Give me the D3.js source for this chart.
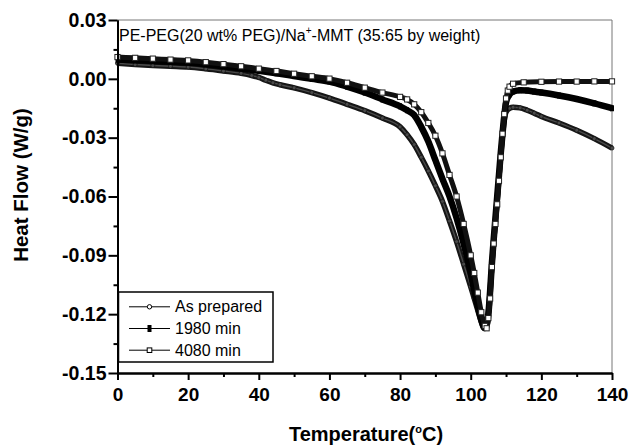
<!DOCTYPE html>
<html>
<head>
<meta charset="utf-8">
<script src="https://cdn.jsdelivr.net/npm/d3@7"></script>
<style>
  body { margin: 0; background: #fff; }
  svg text { font-family: "Liberation Sans", Arial, sans-serif; }
</style>
</head>
<body>
<svg id="chart" width="630" height="446"></svg>
<script>
// DSC heating traces, temperature (C) vs heat flow (W/g)
var tAsPrep = [0, 5, 10, 15, 20, 25, 30, 35, 38, 40, 42, 44, 46, 50, 55, 60, 65, 70, 75, 80, 82, 84, 86, 88, 90, 92, 94, 96, 98, 100, 101, 102, 103, 103.7, 104.5, 105, 105.5, 106, 106.5, 107, 107.5, 108, 108.5, 109, 109.5, 110, 111, 112, 114, 116, 118, 120, 125, 130, 135, 140];
var vAsPrep = [0.0079, 0.0073, 0.0068, 0.0064, 0.0060, 0.0051, 0.0040, 0.0028, 0.0017, 0.0007, -0.0007, -0.0020, -0.0030, -0.0046, -0.0070, -0.0098, -0.0130, -0.0162, -0.0200, -0.0245, -0.0285, -0.0335, -0.0400, -0.0470, -0.0545, -0.0625, -0.0725, -0.0830, -0.0945, -0.1060, -0.1120, -0.1180, -0.1240, -0.1272, -0.1240, -0.1190, -0.1080, -0.0950, -0.0830, -0.0720, -0.0610, -0.0500, -0.0390, -0.0290, -0.0210, -0.0170, -0.0150, -0.0145, -0.0148, -0.0160, -0.0175, -0.0192, -0.0225, -0.0262, -0.0305, -0.0353];

var t1980 = [0, 5, 10, 15, 20, 25, 30, 35, 40, 45, 50, 55, 60, 65, 70, 75, 80, 82, 84, 86, 88, 90, 92, 94, 96, 98, 100, 101, 102, 103, 104, 104.5, 105, 105.5, 106, 106.5, 107, 107.5, 108, 108.5, 109, 109.5, 110, 111, 112, 114, 116, 118, 120, 125, 130, 135, 140];
var v1980 = [0.0098, 0.0095, 0.0091, 0.0087, 0.0083, 0.0074, 0.0064, 0.0053, 0.0041, 0.0028, 0.0014, 0.0000, -0.0014, -0.0040, -0.0070, -0.0105, -0.0140, -0.0160, -0.0185, -0.0245, -0.0320, -0.0415, -0.0510, -0.0600, -0.0710, -0.0840, -0.0990, -0.1080, -0.1160, -0.1230, -0.1270, -0.1255, -0.1200, -0.1080, -0.0940, -0.0820, -0.0710, -0.0600, -0.0490, -0.0380, -0.0280, -0.0190, -0.0120, -0.0080, -0.0065, -0.0058, -0.0060, -0.0065, -0.0070, -0.0085, -0.0103, -0.0125, -0.0150];

var t4080 = [0, 5, 10, 15, 20, 25, 30, 35, 40, 45, 50, 55, 60, 65, 70, 75, 80, 82, 84, 86, 88, 90, 92, 94, 96, 98, 100, 101, 102, 103, 104, 104.5, 105, 105.5, 106, 106.5, 107, 107.5, 108, 108.5, 109, 109.5, 110, 110.5, 111, 112, 115, 120, 125, 130, 135, 140];
var v4080 = [0.0111, 0.0107, 0.0103, 0.0098, 0.0094, 0.0085, 0.0075, 0.0064, 0.0052, 0.0040, 0.0026, 0.0013, 0.0001, -0.0020, -0.0045, -0.0070, -0.0092, -0.0105, -0.0130, -0.0170, -0.0225, -0.0290, -0.0380, -0.0490, -0.0600, -0.0740, -0.0900, -0.0990, -0.1090, -0.1190, -0.1260, -0.1272, -0.1220, -0.1120, -0.0960, -0.0840, -0.0740, -0.0640, -0.0520, -0.0400, -0.0280, -0.0180, -0.0100, -0.0060, -0.0040, -0.0025, -0.0018, -0.0015, -0.0014, -0.0014, -0.0013, -0.0013];

var xMajor = [0, 20, 40, 60, 80, 100, 120, 140];
var xMinor = [10, 30, 50, 70, 90, 110, 130];
var yMajor = [0.03, 0.00, -0.03, -0.06, -0.09, -0.12, -0.15];
var yMinor = [0.015, -0.015, -0.045, -0.075, -0.105, -0.135];
var legendNames = ["As prepared", "1980 min", "4080 min"];

var svg = d3.select("#chart"),
    pLeft = 117.5, pRight = 612, pTop = 20, pBottom = 373;

var x = d3.scaleLinear().domain([0, 140]).range([pLeft, pRight]);
var y = d3.scaleLinear().domain([-0.15, 0.03]).range([pBottom, pTop]);

function pts(ts, vs) { return ts.map(function(t, i) { return [t, vs[i]]; }); }
var line = d3.line()
    .x(function(d) { return x(d[0]); })
    .y(function(d) { return y(d[1]); })
    .curve(d3.curveMonotoneX);

// frame (thin top/right)
svg.append("line").attr("x1", pLeft).attr("x2", pRight).attr("y1", pTop).attr("y2", pTop)
    .attr("stroke", "#777").attr("stroke-width", 1);
svg.append("line").attr("x1", pRight).attr("x2", pRight).attr("y1", pTop).attr("y2", pBottom)
    .attr("stroke", "#777").attr("stroke-width", 1);

// curves
var dA = pts(tAsPrep, vAsPrep), d1 = pts(t1980, v1980), d4 = pts(t4080, v4080);

svg.append("path").attr("d", line(dA)).attr("fill", "none")
    .attr("stroke", "#161616").attr("stroke-width", 5.5);
svg.append("path").attr("d", line(dA)).attr("fill", "none")
    .attr("stroke", "#4a4a4a").attr("stroke-width", 1.4);
svg.selectAll(".mA").data(dA).enter().append("circle")
    .attr("cx", function(d) { return x(d[0]); })
    .attr("cy", function(d) { return y(d[1]); })
    .attr("r", 2).attr("fill", "#4a4a4a").attr("stroke", "#161616").attr("stroke-width", 0.8);

svg.append("path").attr("d", line(d1)).attr("fill", "none")
    .attr("stroke", "#000").attr("stroke-width", 6.5);
svg.selectAll(".m1").data(d1).enter().append("rect")
    .attr("x", function(d) { return x(d[0]) - 2; })
    .attr("y", function(d) { return y(d[1]) - 3; })
    .attr("width", 4).attr("height", 6).attr("fill", "#000");

svg.append("path").attr("d", line(d4)).attr("fill", "none")
    .attr("stroke", "#111").attr("stroke-width", 5);
svg.selectAll(".m4").data(d4).enter().append("rect")
    .attr("x", function(d) { return x(d[0]) - 2.6; })
    .attr("y", function(d) { return y(d[1]) - 2.6; })
    .attr("width", 5.2).attr("height", 5.2)
    .attr("fill", "#fff").attr("stroke", "#222").attr("stroke-width", 1);

// axes
function styleAxis(size) {
  return function(g) {
    g.select(".domain").attr("stroke", "#000").attr("stroke-width", 2);
    g.selectAll(".tick line").attr("stroke", "#000").attr("stroke-width", 2);
    g.selectAll(".tick text").attr("fill", "#000")
      .style("font-size", size + "px").style("font-weight", "bold")
      .style("font-family", "'Liberation Sans', Arial, sans-serif");
  };
}
var fmt = function(d) { return d.toFixed(2); };

svg.append("g").attr("transform", "translate(0," + pBottom + ")")
    .call(d3.axisBottom(x).tickValues(xMinor).tickSize(4).tickFormat("").tickSizeOuter(0))
    .call(styleAxis(19));
svg.append("g").attr("transform", "translate(0," + pBottom + ")")
    .call(d3.axisBottom(x).tickValues(xMajor).tickSize(7).tickPadding(8).tickSizeOuter(0))
    .call(styleAxis(19));
svg.append("g").attr("transform", "translate(" + pLeft + ",0)")
    .call(d3.axisLeft(y).tickValues(yMinor).tickSize(4).tickFormat("").tickSizeOuter(0))
    .call(styleAxis(19.5));
svg.append("g").attr("transform", "translate(" + pLeft + ",0)")
    .call(d3.axisLeft(y).tickValues(yMajor).tickSize(9).tickPadding(2).tickFormat(fmt).tickSizeOuter(0))
    .call(styleAxis(19.5));

// axis titles
var xt = svg.append("text").attr("x", 366).attr("y", 441).attr("text-anchor", "middle")
    .style("font-size", "20px").style("font-weight", "bold");
xt.append("tspan").text("Temperature(");
xt.append("tspan").attr("dy", -8).style("font-size", "11px").text("o");
xt.append("tspan").attr("dy", 8).text("C)");

svg.append("text").attr("transform", "translate(28,185) rotate(-90)")
    .attr("text-anchor", "middle")
    .style("font-size", "20.5px").style("font-weight", "bold")
    .text("Heat Flow (W/g)");

// annotation
var tt = svg.append("text").attr("x", 119).attr("y", 40.5).style("font-size", "16px");
tt.append("tspan").text("PE-PEG(20 wt% PEG)/Na");
tt.append("tspan").attr("dy", -6.5).style("font-size", "10px").text("+");
tt.append("tspan").attr("dy", 6.5).text("-MMT (35:65 by weight)");

// legend
var leg = svg.append("g");
leg.append("rect").attr("x", 118.5).attr("y", 292).attr("width", 154.5).attr("height", 70)
    .attr("fill", "#fff").attr("stroke", "#000").attr("stroke-width", 1.5);
var rowY = [306.8, 328.5, 350.2];
legendNames.forEach(function(name, i) {
  leg.append("line").attr("x1", 129).attr("x2", 170).attr("y1", rowY[i]).attr("y2", rowY[i])
      .attr("stroke", "#000").attr("stroke-width", 1);
  if (i === 0) {
    leg.append("circle").attr("cx", 149.5).attr("cy", rowY[i]).attr("r", 2.2)
        .attr("fill", "#fff").attr("stroke", "#000").attr("stroke-width", 1);
  } else if (i === 1) {
    leg.append("rect").attr("x", 147.5).attr("y", rowY[i] - 3.5).attr("width", 4).attr("height", 7)
        .attr("fill", "#000");
  } else {
    leg.append("rect").attr("x", 147.2).attr("y", rowY[i] - 2.3).attr("width", 4.6).attr("height", 4.6)
        .attr("fill", "#fff").attr("stroke", "#000").attr("stroke-width", 1);
  }
  leg.append("text").attr("x", 175).attr("y", rowY[i] + 5.6)
      .style("font-size", "16px").text(name);
});
</script>
</body>
</html>
